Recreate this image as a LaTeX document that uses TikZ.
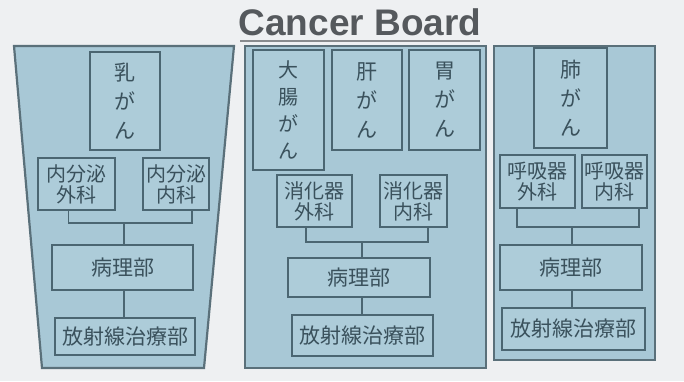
\documentclass[tikz,border=0pt]{standalone}
\usepackage{fontspec}
\setmainfont{Liberation Sans}
\newfontfamily\jp{Noto Sans CJK JP}
\definecolor{bgc}{HTML}{EEF0F2}
\definecolor{panelfill}{HTML}{A8C8D6}
\definecolor{boxfill}{HTML}{ADCCD9}
\definecolor{panelline}{HTML}{5A707A}
\definecolor{boxline}{HTML}{4B6672}
\definecolor{txt}{HTML}{3A515C}
\definecolor{titlec}{HTML}{55595D}
\tikzset{
  panel/.style={draw=panelline, fill=panelfill, line width=2.2pt, line join=miter},
  box/.style={draw=boxline, fill=boxfill, line width=1.8pt, inner sep=0pt, align=center,
    text=txt, font=\jp\fontsize{20}{21}\selectfont},
  bigbox/.style={box, font=\jp\fontsize{21}{29}\selectfont},
  widebox/.style={box, font=\jp\fontsize{21}{22}\selectfont},
  conn/.style={draw=boxline, line width=1.6pt},
}
\begin{document}
\begin{tikzpicture}[x=1pt,y=-1pt]
\useasboundingbox (0,0) rectangle (684,381);
\fill[bgc] (0,0) rectangle (684,381);
% title
\node[text=titlec, font=\bfseries\fontsize{37}{40}\selectfont, inner sep=0pt] (title) at (360,22) {Cancer Board};
\draw[titlec!70, line width=1.2pt] (240,41) -- (480,41);
% panels
\path[panel] (14,46) -- (234,46) -- (204,368) -- (42,368) -- cycle;
\path[panel] (245,46) rectangle (486,368);
\path[panel] (494,46) rectangle (655,360);

% ---- left panel
\node[bigbox, minimum width=70pt, minimum height=98pt] (nyu) at (125,101) {乳\\が\\ん};
\node[box, minimum width=77pt, minimum height=52pt] (g1) at (76.5,184) {内分泌\\外科};
\node[box, minimum width=66pt, minimum height=52pt] (n1) at (176,184) {内分泌\\内科};
\node[widebox, minimum width=141pt, minimum height=45pt] (b1) at (122.5,267.5) {病理部};
\node[widebox, minimum width=140pt, minimum height=37pt] (r1) at (125,336.5) {放射線治療部};
\coordinate (j1) at (124,223);
\draw[conn] ([xshift=-8pt]g1.south) |- (j1) -| ([xshift=16pt]n1.south);
\draw[conn] (j1) -- (j1 |- b1.north);
\draw[conn] (b1.south -| j1) -- (r1.north -| j1);

% ---- middle panel
\node[box, font=\jp\fontsize{20}{27}\selectfont, minimum width=71pt, minimum height=120pt] (dai) at (288.5,110) {大\\腸\\が\\ん};
\node[bigbox, minimum width=70pt, minimum height=100pt] (kan) at (367,100) {肝\\が\\ん};
\node[bigbox, minimum width=71pt, minimum height=100pt] (i) at (444.5,100) {胃\\が\\ん};
\node[box, minimum width=75pt, minimum height=52pt] (g2) at (314.5,201) {消化器\\外科};
\node[box, minimum width=67pt, minimum height=52pt] (n2) at (413.5,201) {消化器\\内科};
\node[widebox, minimum width=142pt, minimum height=39pt] (b2) at (359,277.5) {病理部};
\node[widebox, minimum width=141pt, minimum height=41pt] (r2) at (362.5,335.5) {放射線治療部};
\coordinate (j2) at (362,242);
\draw[conn] ([xshift=-8.5pt]g2.south) |- (j2) -| ([xshift=14.5pt]n2.south);
\draw[conn] (j2) -- (j2 |- b2.north);
\draw[conn] (b2.south -| j2) -- (r2.north -| j2);

% ---- right panel
\node[bigbox, minimum width=73pt, minimum height=100pt] (hai) at (570.5,98) {肺\\が\\ん};
\node[box, minimum width=75pt, minimum height=53pt] (g3) at (537.5,181.5) {呼吸器\\外科};
\node[box, minimum width=65pt, minimum height=53pt] (n3) at (614.5,181.5) {呼吸器\\内科};
\node[widebox, minimum width=142pt, minimum height=45pt] (b3) at (571,267.5) {病理部};
\node[widebox, minimum width=143pt, minimum height=42pt] (r3) at (573.5,329) {放射線治療部};
\coordinate (j3) at (572,227);
\draw[conn] ([xshift=-20.5pt]g3.south) |- (j3) -| ([xshift=24.5pt]n3.south);
\draw[conn] (j3) -- (j3 |- b3.north);
\draw[conn] (b3.south -| j3) -- (r3.north -| j3);
\end{tikzpicture}
\end{document}
